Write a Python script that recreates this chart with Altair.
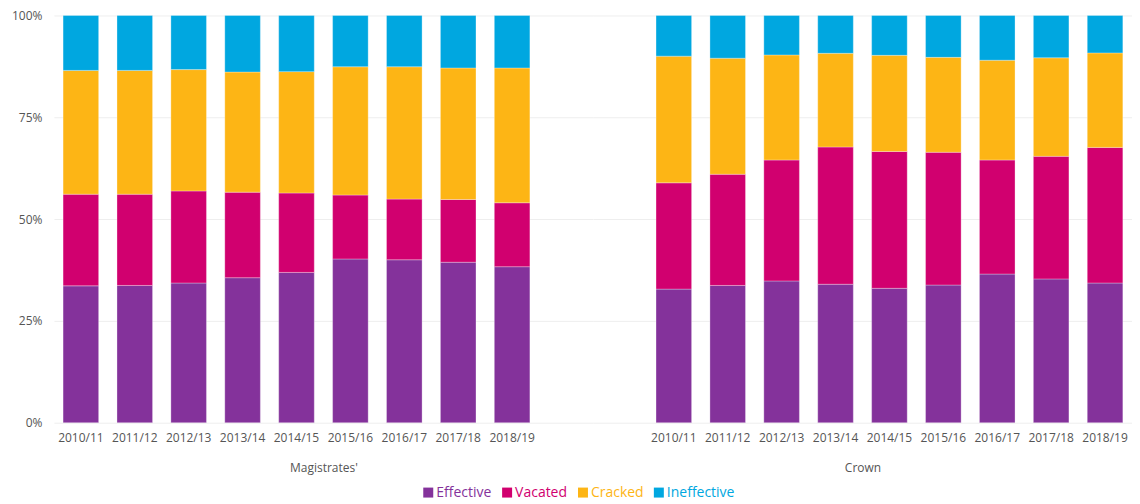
import altair as alt
import pandas as pd

years = ["2010/11", "2011/12", "2012/13", "2013/14", "2014/15",
         "2015/16", "2016/17", "2017/18", "2018/19"]
outcomes = ["Effective", "Vacated", "Cracked", "Ineffective"]
colors = ["#84329B", "#D1006F", "#FDB515", "#00A7E0"]

mag_effective = [33.6, 33.7, 34.3, 35.6, 36.9, 40.2, 40.0, 39.4, 38.3]
mag_vacated = [22.5, 22.4, 22.6, 21.0, 19.5, 15.7, 14.9, 15.4, 15.7]
mag_cracked = [30.4, 30.4, 29.8, 29.5, 29.8, 31.5, 32.5, 32.3, 33.1]
mag_ineffective = [13.5, 13.5, 13.3, 13.9, 13.8, 12.6, 12.6, 12.9, 12.9]

crown_effective = [32.8, 33.7, 34.8, 34.0, 33.0, 33.8, 36.5, 35.3, 34.3]
crown_vacated = [26.1, 27.3, 29.7, 33.7, 33.6, 32.6, 28.0, 30.1, 33.3]
crown_cracked = [31.1, 28.5, 25.8, 23.0, 23.6, 23.3, 24.5, 24.2, 23.2]
crown_ineffective = [10.0, 10.5, 9.7, 9.3, 9.8, 10.3, 11.0, 10.4, 9.2]

def build(series):
    rows = []
    for k, (name, vals) in enumerate(zip(outcomes, series)):
        for y, v in zip(years, vals):
            rows.append({"year": y, "outcome": name, "value": v, "ord": k})
    return pd.DataFrame(rows)

mag_df = build([mag_effective, mag_vacated, mag_cracked, mag_ineffective])
crown_df = build([crown_effective, crown_vacated, crown_cracked, crown_ineffective])

W, H = 540, 408
font = "Open Sans"

color_enc = alt.Color(
    "outcome:N",
    scale=alt.Scale(domain=outcomes, range=colors),
    legend=alt.Legend(
        title=None, orient="none", direction="horizontal",
        legendX=368, legendY=471,
        symbolType="square", symbolSize=100, symbolStrokeWidth=0,
        labelFontSize=14, labelFont=font, labelOffset=1,
        columnPadding=8,
        labelColor={"expr": "scale('color', datum.value)"},
    ),
)

def panel(df, domain, title, show_y):
    yaxis = alt.Axis(values=[0, 0.25, 0.5, 0.75, 1], format=".0%",
                     grid=True, gridColor="#eeeeee", domain=False, ticks=False,
                     labels=show_y, labelPadding=12, title=None)
    return alt.Chart(df).mark_bar(stroke="#ffffff", strokeWidth=0.6, strokeOpacity=0.5).encode(
        x=alt.X("year:N", scale=alt.Scale(domain=domain, paddingInner=0.34, paddingOuter=0.17),
                axis=alt.Axis(labelAngle=0, domain=False, ticks=False, labelPadding=10,
                              title=title, titlePadding=19, grid=False,
                              labelExpr="datum.value == 'gap' ? '' : datum.value")),
        y=alt.Y("value:Q", stack="normalize", scale=alt.Scale(domain=[0, 1]), axis=yaxis),
        color=color_enc,
        order=alt.Order("ord:Q", sort="ascending"),
    ).properties(width=W, height=H)

left = panel(mag_df, years + ["gap"], "Magistrates'", True)
right = panel(crown_df, ["gap"] + years, "Crown", False)

chart = alt.hconcat(left, right, spacing=0).properties(
    padding={"left": 3, "right": 0, "top": 1, "bottom": 0}
).configure_view(stroke=None).configure_axis(
    labelFont=font, titleFont=font, labelFontSize=12, titleFontSize=12,
    labelColor="#555555", titleColor="#555555", titleFontWeight="normal"
)

chart.save("out.html", embed_options={"renderer": "svg", "actions": False})
